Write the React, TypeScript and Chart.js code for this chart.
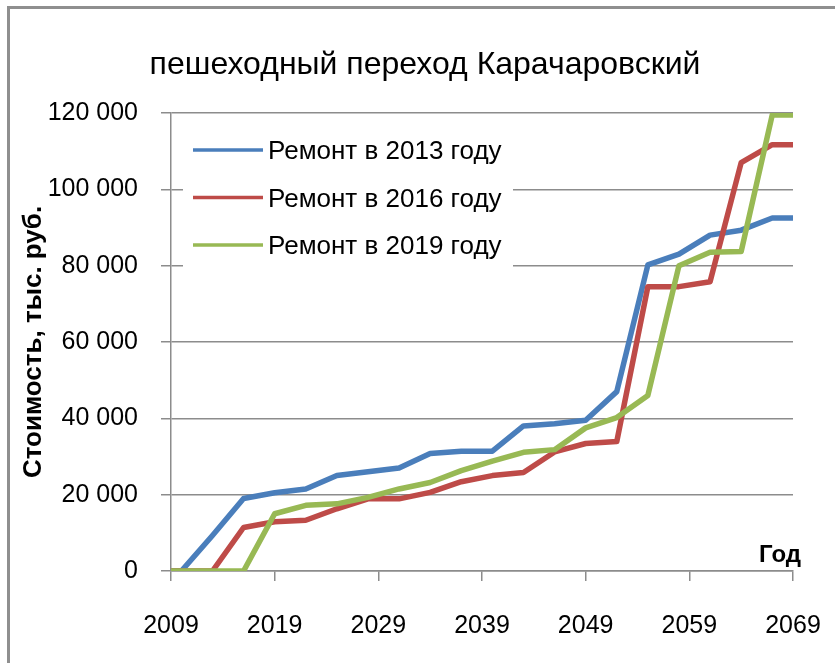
import React, { useEffect, useRef } from 'react';
import { Chart, registerables } from 'chart.js';

Chart.register(...registerables);

const chartTitle = 'пешеходный переход Карачаровский';
const yAxisTitle = 'Стоимость, тыс. руб.';
const xAxisTitle = 'Год';
const seriesLabels = ['Ремонт в 2013 году', 'Ремонт в 2016 году', 'Ремонт в 2019 году'];
const seriesColors = ['#4A7EBB', '#BE4B48', '#98B954'];

const years = [2009, 2010, 2013, 2016, 2019, 2022, 2025, 2028, 2031, 2034, 2037, 2040, 2043, 2046, 2049, 2052, 2055, 2058, 2061, 2064, 2067, 2069];
const repair2013 = [0, 0, 9300, 19000, 20500, 21500, 25000, 26000, 27000, 30800, 31400, 31400, 38000, 38600, 39500, 47000, 80200, 83000, 88000, 89300, 92500, 92500];
const repair2016 = [0, 0, 0, 11400, 12900, 13300, 16300, 18900, 18900, 20600, 23400, 25000, 25800, 31200, 33400, 33900, 74500, 74500, 75800, 107000, 111700, 111700];
const repair2019 = [0, 0, 0, 0, 15000, 17200, 17600, 19300, 21500, 23200, 26300, 28800, 31100, 31800, 37500, 40200, 46000, 80000, 83500, 83700, 119500, 119500];
const seriesValues = [repair2013, repair2016, repair2019];

const xMin = 2009;
const xMax = 2069;
const xStep = 10;
const yMin = 0;
const yMax = 120000;
const yStep = 20000;

const FONT = '"Liberation Sans", Arial, sans-serif';
const GRID = '#8c8c8c';

const formatThousands = (v: number) => String(v).replace(/\B(?=(\d{3})+(?!\d))/g, ' ');

const overlayPlugin = {
  id: 'overlayLegend',
  beforeDatasetsDraw(chart: any) {
    const { ctx, chartArea } = chart;
    ctx.save();
    // title
    ctx.fillStyle = '#000';
    ctx.font = `32px ${FONT}`;
    ctx.textAlign = 'center';
    ctx.textBaseline = 'middle';
    ctx.fillText(chartTitle, 425, 65);
    // legend box
    ctx.fillStyle = '#ffffff';
    ctx.fillRect(chartArea.left + 12, chartArea.top + 6, 330, 158);
    chart.data.datasets.forEach((ds: any, i: number) => {
      const y = chartArea.top + 37 + i * 47.5;
      ctx.strokeStyle = ds.borderColor;
      ctx.lineWidth = 3.5;
      ctx.lineCap = 'butt';
      ctx.beginPath();
      ctx.moveTo(chartArea.left + 22, y);
      ctx.lineTo(chartArea.left + 92, y);
      ctx.stroke();
      ctx.fillStyle = '#000';
      ctx.font = `26px ${FONT}`;
      ctx.textBaseline = 'middle';
      ctx.textAlign = 'left';
      ctx.fillText(ds.label, chartArea.left + 97, y + 2);
    });
    ctx.font = `bold 24px ${FONT}`;
    ctx.textAlign = 'center';
    ctx.textBaseline = 'alphabetic';
    ctx.fillStyle = '#000';
    ctx.fillText(xAxisTitle, chartArea.right - 13, chartArea.bottom - 9);
    ctx.restore();
  },
};

export default function App() {
  const canvasRef = useRef<HTMLCanvasElement | null>(null);

  useEffect(() => {
    const canvas = canvasRef.current;
    if (!canvas) return;
    const chart = new Chart(canvas, {
      type: 'line',
      data: {
        datasets: seriesLabels.map((label, i) => ({
          label,
          data: years.map((yr, j) => ({ x: yr, y: seriesValues[i][j] })),
          borderColor: seriesColors[i],
          backgroundColor: seriesColors[i],
          borderWidth: 5.5,
          pointRadius: 0,
          tension: 0,
          borderJoinStyle: 'round' as const,
          fill: false,
          order: 3 - i,
        })),
      },
      options: {
        animation: false,
        responsive: false,
        devicePixelRatio: 1,
        layout: { padding: { top: 113, left: 0, right: 42, bottom: 0 } },
        plugins: {
          legend: { display: false },
          tooltip: { enabled: false },
          title: { display: false },
        },
        scales: {
          x: {
            type: 'linear',
            min: xMin,
            max: xMax,
            afterFit: (scale: any) => {
              scale.height = 92;
              scale.paddingLeft = 0;
              scale.paddingRight = 0;
            },
            ticks: {
              stepSize: xStep,
              color: '#000',
              font: { family: FONT, size: 25 },
              padding: 30,
              maxRotation: 0,
              callback: (v: any) => String(v),
            },
            grid: { drawOnChartArea: false, drawTicks: true, tickLength: 10, color: GRID, lineWidth: 1.5 },
            border: { display: true, color: GRID, width: 1.5 },
          },
          y: {
            min: yMin,
            max: yMax,
            afterFit: (scale: any) => {
              scale.width = 171;
              scale.paddingTop = 0;
              scale.paddingBottom = 0;
            },
            ticks: {
              stepSize: yStep,
              color: '#000',
              font: { family: FONT, size: 25 },
              padding: 23,
              callback: (v: any) => formatThousands(Number(v)),
            },
            grid: { drawOnChartArea: true, drawTicks: true, tickLength: 10, color: GRID, lineWidth: 1.5 },
            border: { display: true, color: GRID, width: 1.5 },
            title: {
              display: true,
              text: yAxisTitle,
              color: '#000',
              font: { family: FONT, size: 26, weight: 'bold' },
              padding: { top: 18, bottom: 0 },
            },
          },
        },
      },
      plugins: [overlayPlugin],
    });
    return () => chart.destroy();
  }, []);

  return (
    <div style={{ position: 'fixed', left: 0, top: 0, width: 835, height: 663, background: '#fff', overflow: 'hidden' }}>
      <canvas ref={canvasRef} width={835} height={663} style={{ position: 'absolute', left: 0, top: 0 }} />
      <div style={{ position: 'absolute', left: 7, top: 6, width: 1000, height: 1000, border: '3px solid #8f8f8f', pointerEvents: 'none' }} />
    </div>
  );
}
